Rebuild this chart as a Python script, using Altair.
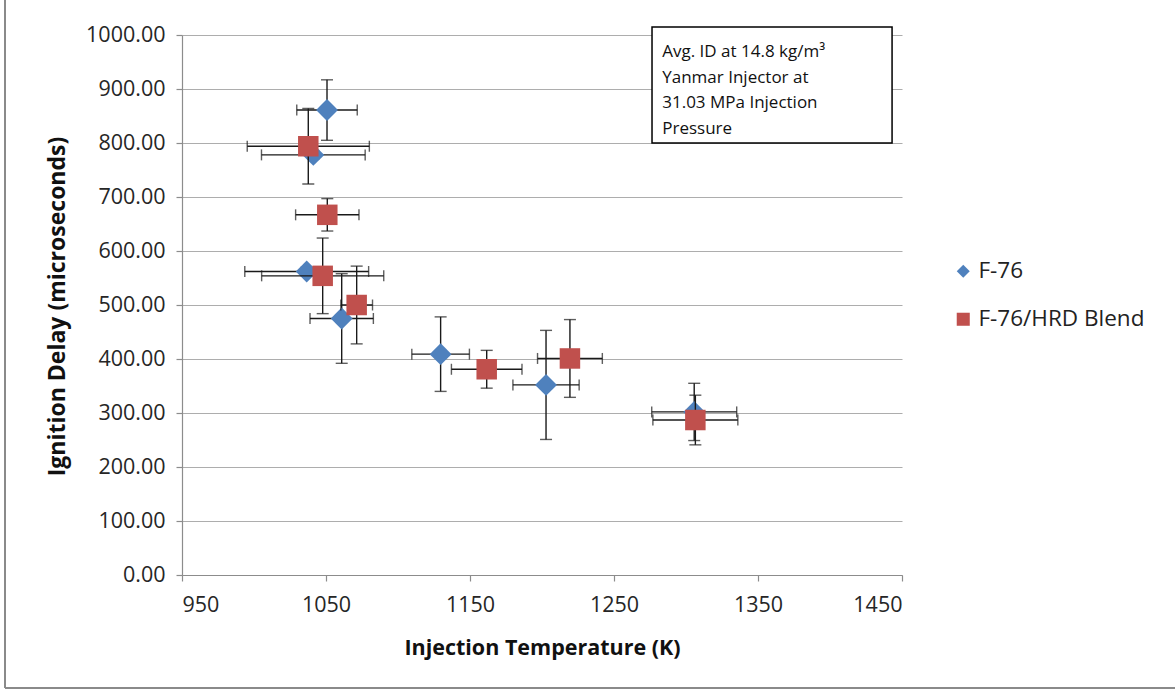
import altair as alt
import pandas as pd

# ---------------- data ----------------
series_names = ["F-76", "F-76/HRD Blend"]
series_colors = ["#4F81BD", "#C0504D"]
series_shapes = ["diamond", "square"]

f76_temp = [1050.7, 1041.2, 1036.6, 1060.9, 1129.6, 1202.8, 1305.7]
f76_delay = [861, 778, 562, 475, 409, 352, 302]
f76_temp_err = [21, 36, 43, 22, 20, 23, 29.5]
f76_delay_err = [56, 8, 8, 83, 69, 101, 53]

blend_temp = [1037.7, 1050.9, 1047.7, 1071.3, 1161.6, 1219.4, 1306.5]
blend_delay = [794, 667, 554, 500, 381, 401, 287]
blend_temp_err = [42.4, 22, 42.4, 11, 24.5, 22.5, 29.5]
blend_delay_err = [70, 30, 70, 72, 35, 72, 46]

x_ticks = [950, 1050, 1150, 1250, 1350, 1450]
y_ticks = [0, 100, 200, 300, 400, 500, 600, 700, 800, 900, 1000]

note_lines = ["Avg. ID at 14.8 kg/m\u00b3", "Yanmar Injector at",
              "31.03 MPa Injection", "Pressure"]

FONT = "Open Sans"
EB = "#1a1a1a"


def frame(name, t, d, te, de):
    df = pd.DataFrame({"series": name, "temp": t, "delay": d,
                       "te": te, "de": de})
    df["tlo"] = df["temp"] - df["te"]
    df["thi"] = df["temp"] + df["te"]
    df["dlo"] = df["delay"] - df["de"]
    df["dhi"] = df["delay"] + df["de"]
    return df


xs = alt.Scale(domain=[950, 1450], nice=False, zero=False)
ys = alt.Scale(domain=[0, 1000], nice=False)
color_scale = alt.Scale(domain=series_names, range=series_colors)
shape_scale = alt.Scale(domain=series_names, range=series_shapes)

X_AXIS = alt.Axis(values=x_ticks, format="d", grid=False,
                  title="Injection Temperature (K)", titleY=73,
                  titleBaseline="middle", titleFontSize=21.5)
Y_AXIS = alt.Axis(values=y_ticks, format=".2f", grid=True,
                  title="Ignition Delay (microseconds)", titleX=-125,
                  titleY=271, titleBaseline="middle", titleFontSize=23)


def series_layers(df, size, first=False):
    base = alt.Chart(df)
    if first:
        hx = alt.X("tlo:Q", scale=xs, axis=X_AXIS)
        hy = alt.Y("delay:Q", scale=ys, axis=Y_AXIS)
    else:
        hx = alt.X("tlo:Q", scale=xs)
        hy = alt.Y("delay:Q", scale=ys)
    hbar = base.mark_rule(color=EB, strokeWidth=1.4).encode(
        x=hx, x2="thi:Q", y=hy)
    vbar = base.mark_rule(color=EB, strokeWidth=1.4).encode(
        x=alt.X("temp:Q", scale=xs), y=alt.Y("dlo:Q", scale=ys), y2="dhi:Q")
    hcap_lo = base.mark_tick(orient="vertical", size=11, thickness=1.4,
                             color=EB).encode(
        x=alt.X("tlo:Q", scale=xs), y=alt.Y("delay:Q", scale=ys))
    hcap_hi = base.mark_tick(orient="vertical", size=11, thickness=1.4,
                             color=EB).encode(
        x=alt.X("thi:Q", scale=xs), y=alt.Y("delay:Q", scale=ys))
    vcap_lo = base.mark_tick(orient="horizontal", size=12, thickness=1.4,
                             color=EB).encode(
        x=alt.X("temp:Q", scale=xs), y=alt.Y("dlo:Q", scale=ys))
    vcap_hi = base.mark_tick(orient="horizontal", size=12, thickness=1.4,
                             color=EB).encode(
        x=alt.X("temp:Q", scale=xs), y=alt.Y("dhi:Q", scale=ys))
    pts = base.mark_point(filled=True, opacity=1, size=size).encode(
        x=alt.X("temp:Q", scale=xs), y=alt.Y("delay:Q", scale=ys),
        color=alt.Color("series:N", scale=color_scale, title=None),
        shape=alt.Shape("series:N", scale=shape_scale, title=None))
    return [hbar, vbar, hcap_lo, hcap_hi, vcap_lo, vcap_hi, pts]


f76 = frame(series_names[0], f76_temp, f76_delay, f76_temp_err, f76_delay_err)
blend = frame(series_names[1], blend_temp, blend_delay, blend_temp_err,
              blend_delay_err)

layers = series_layers(f76, 480, first=True) + series_layers(blend, 420)

one = pd.DataFrame({"a": [0]})

# annotation box
note_box = alt.Chart(one).mark_rect(
    fill="white", stroke="black", strokeWidth=1.5).encode(
    x=alt.datum(1276.4), x2=alt.datum(1443.1),
    y=alt.datum(1014.8), y2=alt.datum(800))
note_text = alt.Chart(one).mark_text(
    align="left", baseline="middle", font=FONT, fontSize=17,
    lineHeight=25.8, color="#111").encode(
    x=alt.datum(1283.5), y=alt.datum(969), text=alt.value(note_lines))

# outer chart border (left and bottom edges)
border_left = alt.Chart(one).mark_rule(color="#8a8a8a", strokeWidth=2).encode(
    x=alt.value(-177), y=alt.value(-40), y2=alt.value(653))
border_bottom = alt.Chart(one).mark_rule(color="#8a8a8a", strokeWidth=2).encode(
    x=alt.value(-177), x2=alt.value(1000), y=alt.value(653))

chart = alt.layer(*layers, note_box, note_text, border_left, border_bottom).properties(
    width=720, height=540,
    autosize=alt.AutoSizeParams(type="none"),
    padding={"left": 182, "top": 35, "right": 273, "bottom": 116},
).configure_view(stroke=None).configure_axis(
    labelFont=FONT, labelFontSize=21.5, labelColor="#262626",
    titleFont=FONT, titleFontWeight="bold", titleColor="#111",
    domainColor="#8c8c8c", domainWidth=1.2,
    tickColor="#8c8c8c", tickSize=6, tickWidth=1.2,
    gridColor="#adadad", gridWidth=1.2,
).configure_axisY(labelPadding=11).configure_axisX(labelPadding=13).configure_legend(
    orient="none", legendX=770, legendY=225, padding=0,
    labelFont=FONT, labelFontSize=22.5, labelColor="#222", labelLimit=400,
    symbolSize=170, symbolStrokeWidth=0, rowPadding=25, labelOffset=4,
)

chart.save("out.html", embed_options={"renderer": "svg", "actions": False})
